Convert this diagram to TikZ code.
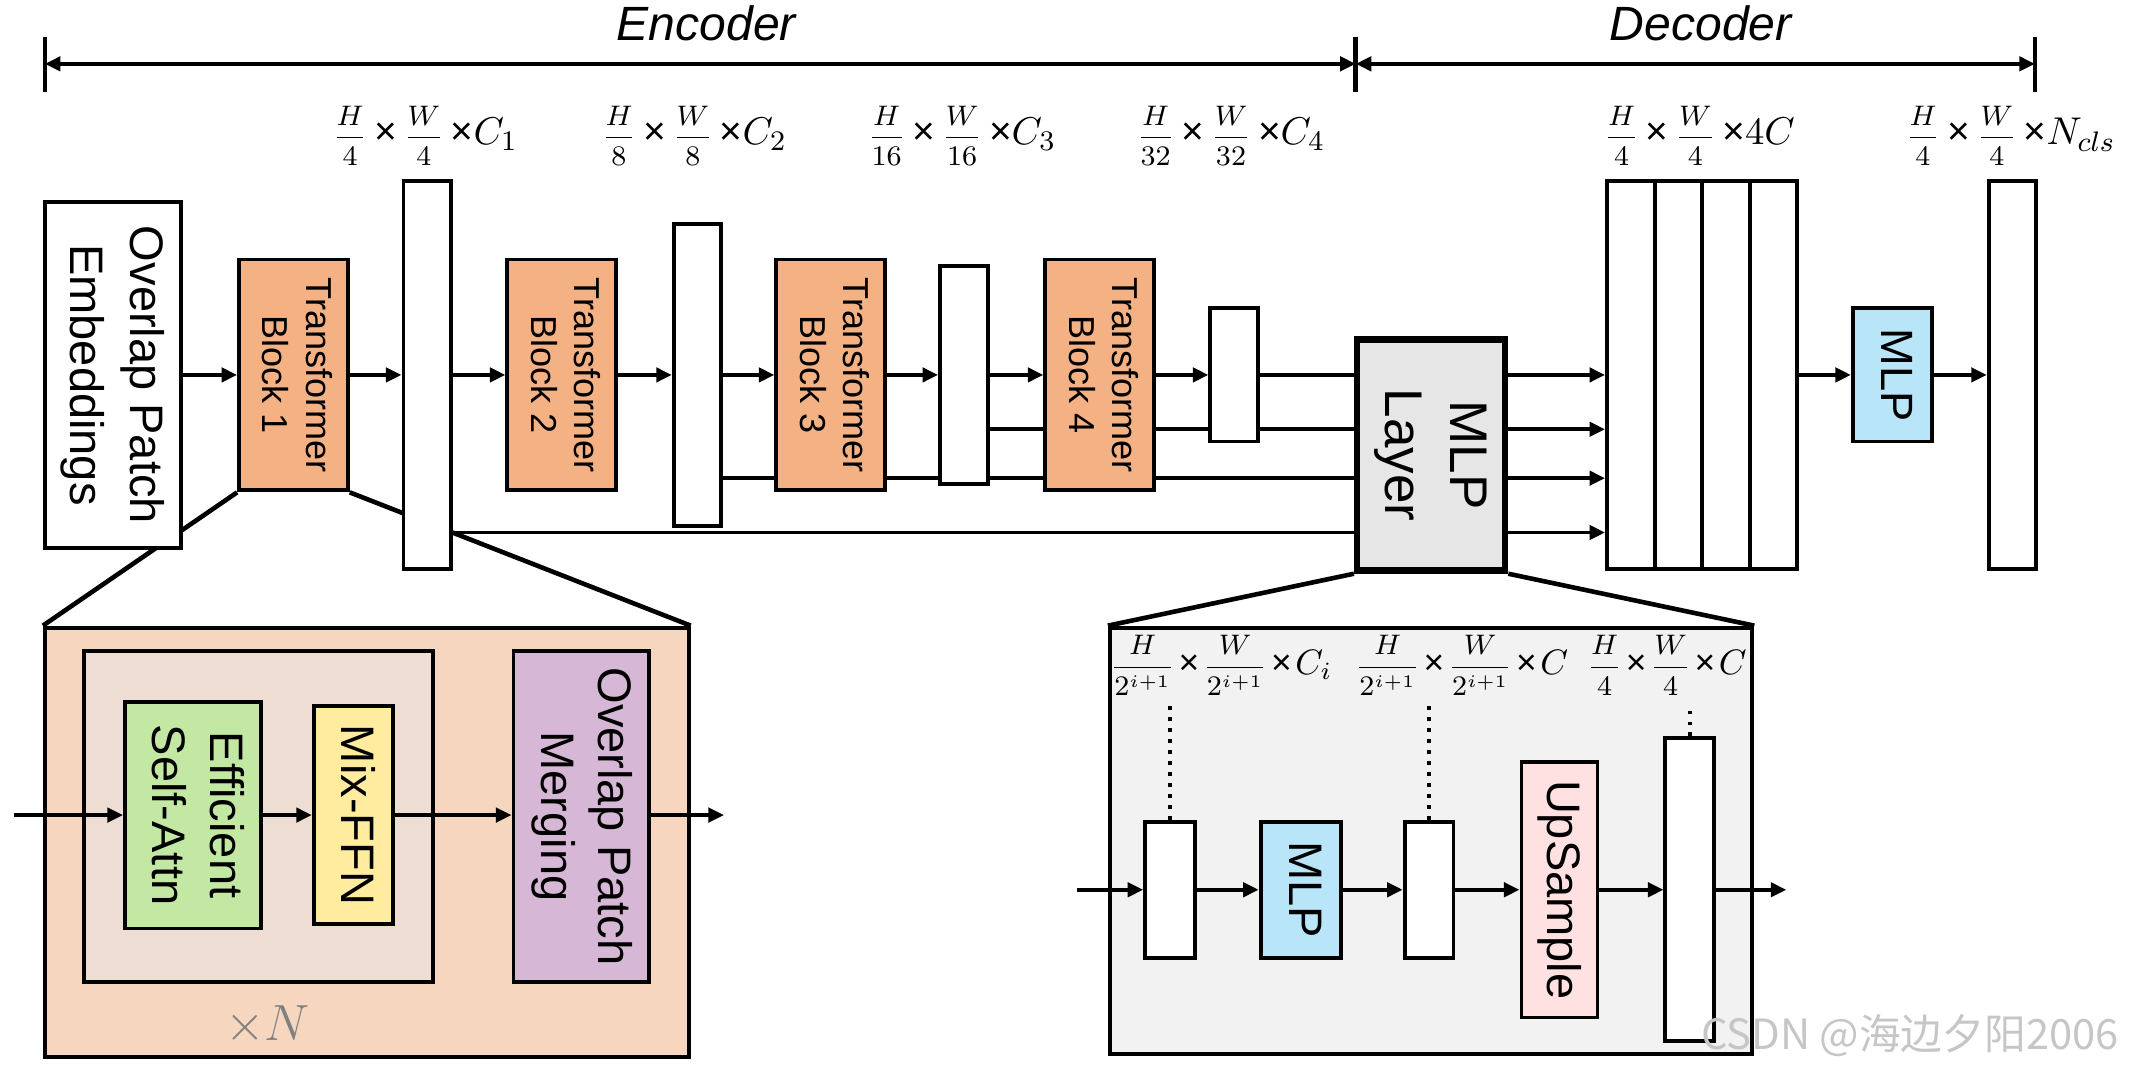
\documentclass[tikz,border=0pt]{standalone}
\usepackage{fontspec}
\setmainfont{Liberation Sans}
\newfontfamily\cjkfont{Noto Sans CJK SC}
\usetikzlibrary{arrows.meta,backgrounds}
\newlength\pxu \setlength\pxu{0.0135cm}
\definecolor{tbcol}{HTML}{F4B183}
\definecolor{peach}{HTML}{F7D6BF}
\definecolor{innercol}{HTML}{EEDDD3}
\definecolor{greencol}{HTML}{C3E8A4}
\definecolor{yellowcol}{HTML}{FFEC9E}
\definecolor{purplecol}{HTML}{D7B7D6}
\definecolor{bluecol}{HTML}{B9E5F8}
\definecolor{pinkcol}{HTML}{FFE1E1}
\definecolor{graycol}{HTML}{E6E6E6}
\definecolor{zoomgray}{HTML}{F2F2F2}
\newcommand\rottext[1]{\rotatebox{-90}{\begin{tabular}{@{}c@{}}#1\end{tabular}}}
\newcommand\fsTB{\fontsize{10.2}{12.3}\selectfont}
\newcommand\fsOPE{\fontsize{13.3}{17}\selectfont}
\newcommand\fsML{\fontsize{15}{18.5}\selectfont}
\newcommand\fsMLP{\fontsize{12.8}{15}\selectfont}
\newcommand\fsZ{\fontsize{13.3}{16.3}\selectfont}
\newcommand\fsHead{\fontsize{13.6}{16}\selectfont\itshape}
\newcommand\fsLab{\fontsize{11}{12}\selectfont}
\newcommand\fsLabS{\fontsize{10}{11}\selectfont}
\newcommand\ff[2]{{\fontsize{8.5}{10}\selectfont$\displaystyle\frac{#1}{#2}$}}
\newcommand\ffs[2]{{\fontsize{7.6}{9}\selectfont$\displaystyle\frac{#1}{#2}$}}
\newcommand\tm{\,×\,}
\newcommand\tms{\kern1pt×\kern1pt}
\newcommand\tme{\,×}
\tikzset{
  bx/.style={draw, line width=1.1pt, inner sep=0pt, align=center},
  arr/.style={line width=1.1pt, -{Triangle[length=4.4pt,width=4pt]}},
  darr/.style={line width=1.3pt, {Triangle[length=4.4pt,width=4pt]}-{Triangle[length=4.4pt,width=4pt]}},
  ln/.style={line width=1.1pt},
  zl/.style={line width=1.3pt},
  lab/.style={inner sep=0pt, font=\fsLab},
  labs/.style={inner sep=0pt, font=\fsLabS},
}
\begin{document}
\begin{tikzpicture}[x=0.0135cm,y=-0.0135cm]
\useasboundingbox (0,0) rectangle (1568,787);

% header
\coordinate (e0) at (33,47);
\coordinate (e1) at (998,47);
\coordinate (e2) at (1498,47);
\draw[line width=1.3pt] (33,27) -- (33,68);
\draw[line width=1.3pt] (998,27) -- (998,68);
\draw[line width=1.3pt] (1498,27) -- (1498,68);
\draw[darr] (e0) -- (e1);
\draw[darr] (e1) -- (e2);
\node[font=\fsHead] (enc) at (520,17) {Encoder};
\node[font=\fsHead] (dec) at (1252,17) {Decoder};

% dimension labels
\node[lab] (d1) at (313,100) {\ff{H}{4}\tm\ff{W}{4}\tme$C_1$};
\node[lab] (d2) at (511,100) {\ff{H}{8}\tm\ff{W}{8}\tme$C_2$};
\node[lab] (d3) at (708,100) {\ff{H}{16}\tm\ff{W}{16}\tme$C_3$};
\node[lab] (d4) at (906,100) {\ff{H}{32}\tm\ff{W}{32}\tme$C_4$};
\node[lab] (d5) at (1251,100) {\ff{H}{4}\tm\ff{W}{4}\tme$4C$};
\node[lab] (d6) at (1480,100) {\ff{H}{4}\tm\ff{W}{4}\tme$N_{cls}$};

% main encoder row
\node[bx, fill=white, minimum width=100\pxu, minimum height=255\pxu, font=\fsOPE] (ope) at (83,276) {\rottext{Overlap Patch\\Embeddings}};
\node[bx, fill=tbcol, minimum width=80\pxu, minimum height=170\pxu, font=\fsTB] (tb1) at (216,276) {\rottext{Transformer\\Block 1}};
\node[bx, fill=white, minimum width=35\pxu, minimum height=286\pxu] (f1) at (314.5,276) {};
\node[bx, fill=tbcol, minimum width=80\pxu, minimum height=170\pxu, font=\fsTB] (tb2) at (413.5,276) {\rottext{Transformer\\Block 2}};
\node[bx, fill=white, minimum width=35\pxu, minimum height=222\pxu] (f2) at (513.5,276) {};
\node[bx, fill=tbcol, minimum width=80\pxu, minimum height=170\pxu, font=\fsTB] (tb3) at (611.5,276) {\rottext{Transformer\\Block 3}};
\node[bx, fill=white, minimum width=35\pxu, minimum height=160\pxu] (f3) at (709.5,276) {};
\node[bx, fill=tbcol, minimum width=80\pxu, minimum height=170\pxu, font=\fsTB] (tb4) at (809.5,276) {\rottext{Transformer\\Block 4}};
\node[bx, fill=white, minimum width=35\pxu, minimum height=98\pxu] (f4) at (908.5,276) {};
\node[bx, fill=graycol, line width=1.8pt, minimum width=109\pxu, minimum height=170\pxu, font=\fsML] (mlpl) at (1053.5,335) {\rottext{MLP\\Layer}};

% decoder
\node[bx, fill=white, minimum width=35\pxu, minimum height=286\pxu] (c1) at (1200.5,276) {};
\node[bx, fill=white, minimum width=35\pxu, minimum height=286\pxu] (c2) at (1235.5,276) {};
\node[bx, fill=white, minimum width=35\pxu, minimum height=286\pxu] (c3) at (1270.5,276) {};
\node[bx, fill=white, minimum width=35\pxu, minimum height=286\pxu] (c4) at (1305.5,276) {};
\node[bx, fill=bluecol, minimum width=58\pxu, minimum height=98\pxu, font=\fsMLP] (mlp) at (1393,276) {\rottext{MLP}};
\node[bx, fill=white, minimum width=35\pxu, minimum height=286\pxu] (out) at (1481.5,276) {};

% skip-line levels
\coordinate (y316) at (0,316);
\coordinate (y352) at (0,352);
\coordinate (y392) at (0,392);
\coordinate (y276) at (0,276);

% left zoom
\node[bx, fill=peach, minimum width=474\pxu, minimum height=316\pxu] (zl) at (270,620) {};
\node[bx, fill=innercol, minimum width=257\pxu, minimum height=244\pxu] (inner) at (190.5,601) {};
\node[bx, fill=greencol, minimum width=100\pxu, minimum height=167\pxu, font=\fsZ] (esa) at (142,600) {\rottext{Efficient\\Self-Attn}};
\node[bx, fill=yellowcol, minimum width=58\pxu, minimum height=161\pxu, font=\fsZ] (ffn) at (260,600) {\rottext{Mix-FFN}};
\node[bx, fill=purplecol, minimum width=100\pxu, minimum height=244\pxu, font=\fsZ] (opm) at (428,601) {\rottext{Overlap Patch\\Merging}};
\node[text=gray, font=\fontsize{15}{15}\selectfont] (xn) at (197,755) {$\times N$};
\coordinate (lin) at (10,600);
\coordinate (lout) at (533,600);

% right zoom
\node[bx, fill=zoomgray, minimum width=473\pxu, minimum height=314\pxu] (zr) at (1053.5,619) {};
\node[bx, fill=white, minimum width=37\pxu, minimum height=100\pxu] (r1) at (861.5,655) {};
\node[bx, fill=bluecol, minimum width=59\pxu, minimum height=100\pxu, font=\fsZ] (rmlp) at (957.5,655) {\rottext{MLP}};
\node[bx, fill=white, minimum width=36\pxu, minimum height=100\pxu] (r2) at (1052,655) {};
\node[bx, fill=pinkcol, minimum width=56\pxu, minimum height=188\pxu, font=\fsZ] (up) at (1148,655) {\rottext{UpSample}};
\node[bx, fill=white, minimum width=36\pxu, minimum height=223\pxu] (r3) at (1244,655) {};
\node[labs] (l1) at (899,490) {\ffs{H}{2^{i+1}}\tms\ffs{W}{2^{i+1}}\tms$C_i$};
\node[labs] (l2) at (1076,490) {\ffs{H}{2^{i+1}}\tms\ffs{W}{2^{i+1}}\tms$C$};
\node[labs] (l3) at (1227,490) {\ffs{H}{4}\tms\ffs{W}{4}\tms$C$};
\coordinate (dl) at (0,520);
\coordinate (rin) at (793,655);
\coordinate (rout) at (1315,655);

\begin{scope}[on background layer]
  \draw[zl] (tb1.south west) -- (zl.north west);
  \draw[zl] (tb1.south east) -- (zl.north east);
  \draw[zl] (mlpl.south west) -- (zr.north west);
  \draw[zl] (mlpl.south east) -- (zr.north east);
  \draw[ln] (f3.east |- y316) -- (mlpl.west |- y316);
  \draw[ln] (f2.east |- y352) -- (mlpl.west |- y352);
  \draw[ln] (f1.east |- y392) -- (mlpl.west |- y392);
\end{scope}

% main arrows
\draw[arr] (ope) -- (tb1);
\draw[arr] (tb1) -- (f1);
\draw[arr] (f1) -- (tb2);
\draw[arr] (tb2) -- (f2);
\draw[arr] (f2) -- (tb3);
\draw[arr] (tb3) -- (f3);
\draw[arr] (f3) -- (tb4);
\draw[arr] (tb4) -- (f4);
\draw[ln] (f4.east) -- (mlpl.west |- y276);
\draw[arr] (mlpl.east |- y276) -- (c1.west |- y276);
\draw[arr] (mlpl.east |- y316) -- (c1.west |- y316);
\draw[arr] (mlpl.east |- y352) -- (c1.west |- y352);
\draw[arr] (mlpl.east |- y392) -- (c1.west |- y392);
\draw[arr] (c4) -- (mlp);
\draw[arr] (mlp) -- (out);

% left zoom arrows
\draw[arr] (lin) -- (esa);
\draw[arr] (esa) -- (ffn);
\draw[arr] (ffn) -- (opm.west |- lin);
\draw[arr] (opm.east |- lin) -- (lout);

% right zoom arrows
\draw[arr] (rin) -- (r1);
\draw[arr] (r1) -- (rmlp);
\draw[arr] (rmlp) -- (r2);
\draw[arr] (r2) -- (up);
\draw[arr] (up) -- (r3);
\draw[arr] (r3) -- (rout);
\draw[dotted, line width=1.1pt] (r1.north) -- (r1.north |- dl);
\draw[dotted, line width=1.1pt] (r2.north) -- (r2.north |- dl);
\draw[dotted, line width=1.1pt] (r3.north) -- (r3.north |- dl);

% watermark
\node[text=gray!45, font=\cjkfont\fontsize{11.8}{13}\selectfont] (wm) at (1406,762) {CSDN @海边夕阳2006};
\end{tikzpicture}
\end{document}
